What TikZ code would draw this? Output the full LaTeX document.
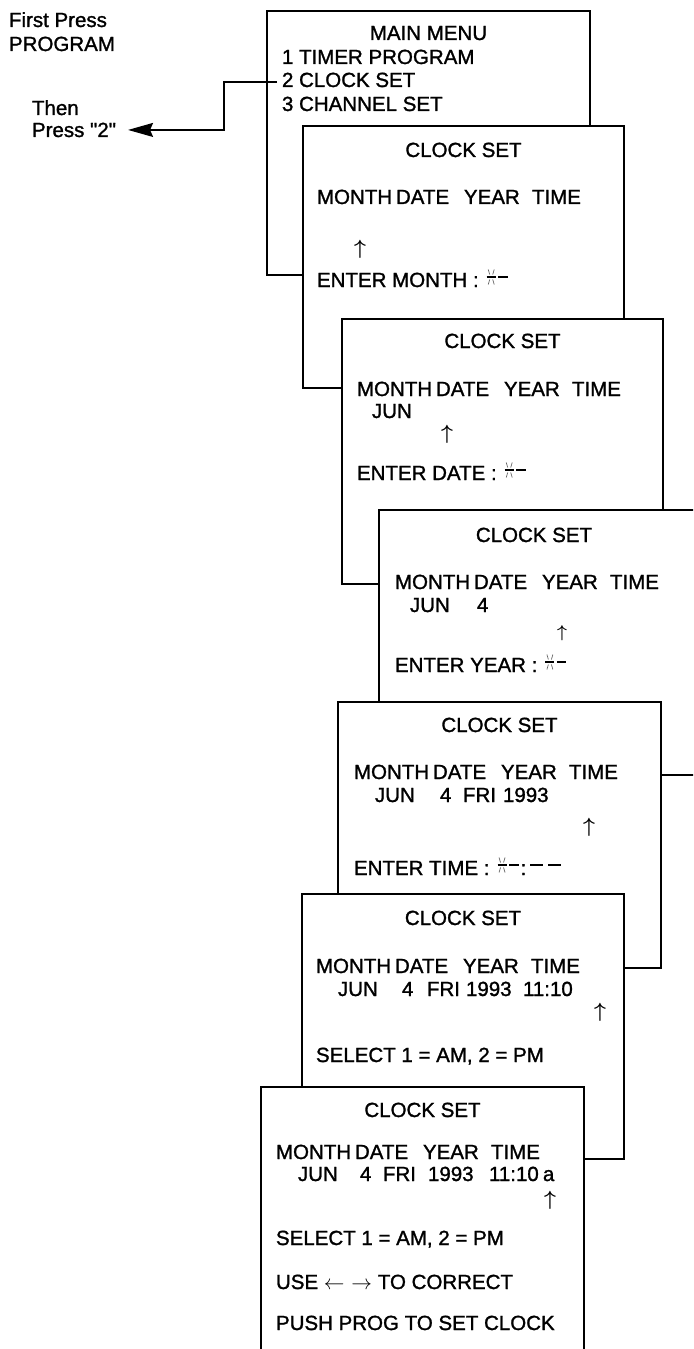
\documentclass[tikz,border=0pt]{standalone}
\usepackage{fontspec}
\setmainfont{Liberation Sans}[Ligatures=TeXOff, RawFeature={embolden=1.3}]
\usetikzlibrary{arrows.meta}
\newcommand\hdrline{\makebox[79bp][l]{MONTH}\makebox[68bp][l]{DATE}\makebox[68bp][l]{YEAR}TIME}
\begin{document}
\begin{tikzpicture}[x=1bp,y=-1bp,
  screen/.style={draw, fill=white, line width=1.3bp, inner sep=0pt, outer sep=0pt, anchor=north west},
  txt/.style={anchor=base west, inner sep=0pt, outer sep=0pt, font=\fontsize{20.5bp}{24bp}\selectfont},
  ttl/.style={txt, anchor=base},
  uparr/.style={inner sep=0pt, outer sep=0pt, font=\fontsize{#1}{#1}\selectfont\boldmath},
  uparr/.default=19bp,
  dashln/.style={line width=1.3bp},
  blink/.pic={
    \draw[dashln] (0,0) -- (9,0) (11.5,0) -- (21,0);
    \draw[black!60, line width=0.7bp] (1.5,-7.5) -- (3,-2.5) (7.5,-7.5) -- (6,-2.5)
          (3,2.5) -- (1.5,7.5) (6,2.5) -- (7.5,7.5);
  }]
\useasboundingbox (0,0) rectangle (693,1349);
\clip (0,0) rectangle (693,1349);
% screens
\node[screen, minimum width=323bp, minimum height=264bp] (b1) at (267,11) {};
\node[screen, minimum width=321bp, minimum height=262bp] (b2) at (303,126) {};
\node[screen, minimum width=321bp, minimum height=265bp] (b3) at (342,319) {};
\node[screen, minimum width=321bp, minimum height=265bp] (b4) at (379,510) {};
\node[screen, minimum width=323bp, minimum height=266bp] (b5) at (338,702) {};
\node[screen, minimum width=322bp, minimum height=265bp] (b6) at (302,894) {};
\node[screen, minimum width=323bp, minimum height=273bp] (b7) at (261,1087) {};
% left labels
\node[txt] (fp1) at (9,27) {First Press};
\node[txt] (fp2) at (9,51) {PROGRAM};
\node[txt] (th1) at (32,115) {Then};
\node[txt] (press2) at (32,137) {Press "2"};
% main menu
\node[ttl] (mm) at (428.5,40) {MAIN MENU};
\node[txt] (m1) at (282,64) {1 TIMER PROGRAM};
\node[txt] (m2) at (282,87) {2 CLOCK SET};
\node[txt] (m3) at (282,111) {3 CHANNEL SET};
\coordinate (c1) at (277,82);
\coordinate (c2) at (224,82);
\draw[line width=1.3bp, -{Stealth[length=25bp,width=14bp,inset=3bp]}, shorten >=12bp] (c1) -- (c2) |- (press2.east);
% screen 2
\node[ttl] (t2) at (463.5,157) {CLOCK SET};
\node[txt] (h2) at (317,204) {\hdrline};
\node[uparr] (a2) at (360,249.5) {$\uparrow$};
\node[txt] (e2) at (317,287) {ENTER MONTH :};
\pic at ([shift={(8,-10)}]e2.base east) {blink};
% screen 3
\node[ttl] (t3) at (502.5,348) {CLOCK SET};
\node[txt] (h3) at (357,396) {\hdrline};
\node[txt] (r3) at (372,418) {JUN};
\node[uparr] (a3) at (447,434.5) {$\uparrow$};
\node[txt] (e3) at (357,480) {ENTER DATE :};
\pic at ([shift={(8,-10)}]e3.base east) {blink};
% screen 4
\node[ttl] (t4) at (534,542) {CLOCK SET};
\node[txt] (h4) at (395,589) {\hdrline};
\node[txt] (r4) at (410,612) {\makebox[67bp][l]{JUN}4};
\node[uparr=18bp] (a4) at (562,633.5) {$\uparrow$};
\node[txt] (e4) at (395,672) {ENTER YEAR :};
\pic at ([shift={(8,-10)}]e4.base east) {blink};
% screen 5
\node[ttl] (t5) at (499.5,732) {CLOCK SET};
\node[txt] (h5) at (354,779) {\hdrline};
\node[txt] (r5) at (375,802) {\makebox[65bp][l]{JUN}\makebox[23bp][l]{4}\makebox[40bp][l]{FRI}1993};
\node[uparr] (a5) at (589,827.5) {$\uparrow$};
\node[txt] (e5) at (354,875) {ENTER TIME :};
\coordinate (k5) at ([shift={(8,-10)}]e5.base east);
\pic at (k5) {blink};
\node[txt] (e5c) at ([shift={(23,10)}]k5) {:};
\draw[dashln] ([shift={(4,-10)}]e5c.base east) -- ++(13,0) ++(5,0) -- ++(13,0);
% screen 6
\node[ttl] (t6) at (463,925) {CLOCK SET};
\node[txt] (h6) at (316,973) {\hdrline};
\node[txt] (r6) at (338,996) {\makebox[64bp][l]{JUN}\makebox[25bp][l]{4}\makebox[39bp][l]{FRI}\makebox[57bp][l]{1993}11:10};
\node[uparr=22bp] (a6) at (600,1012.5) {$\uparrow$};
\node[txt] (s6) at (316,1062) {SELECT 1 = AM, 2 = PM};
% screen 7
\node[ttl] (t7) at (422.5,1117) {CLOCK SET};
\node[txt] (h7) at (276,1159) {\hdrline};
\node[txt] (r7) at (298,1181) {\makebox[62bp][l]{JUN}\makebox[23bp][l]{4}\makebox[45bp][l]{FRI}\makebox[61bp][l]{1993}\makebox[54bp][l]{11:10}a};
\node[uparr=19bp] (a7) at (550,1200.5) {$\uparrow$};
\node[txt] (s7) at (276,1245) {SELECT 1 = AM, 2 = PM};
\node[txt] (u7) at (276,1289) {USE $\leftarrow$\hspace{7bp}$\rightarrow$ TO CORRECT};
\node[txt] (p7) at (276,1330) {PUSH PROG TO SET CLOCK};
\end{tikzpicture}
\end{document}
